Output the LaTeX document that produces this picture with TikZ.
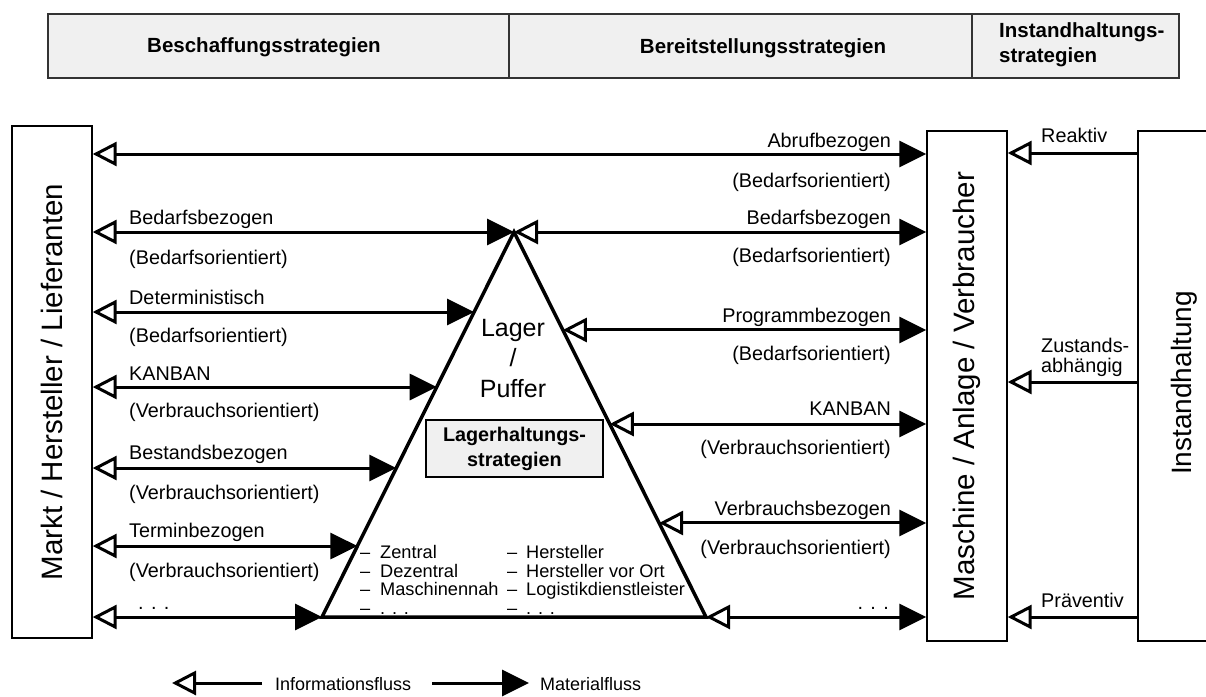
\documentclass[tikz,border=0pt]{standalone}
\usepackage{fontspec}
\setmainfont{Liberation Sans}
\usetikzlibrary{arrows.meta,calc}
\newcommand\lblfont{\fontsize{19.8}{21}\selectfont}
\newcommand\lstfont{\fontsize{18.2}{18.5}\selectfont}
\newcommand\bigfont{\fontsize{29.5}{32}\selectfont}
\newcommand\hdfont{\fontsize{20.5}{25}\selectfont\bfseries}
\begin{document}
\begin{tikzpicture}[x=1pt,y=-1pt,
  mat/.tip={Triangle[length=27pt,width=26pt]},
  inf/.tip={Triangle[open,length=24pt,width=24pt]},
  flow/.style={line width=3pt,{inf}-{mat}},
  infoflow/.style={line width=3pt,-{inf}},
  matflow/.style={line width=3pt,-{mat}},
  box/.style={draw,line width=1.4pt,inner sep=0pt},
  hd/.style={draw=black!80,line width=2pt,fill=black!6,inner sep=0pt},
  hdt/.style={inner sep=0pt,font=\hdfont},
  ll/.style={anchor=base west,inner sep=0pt,font=\lblfont},
  rl/.style={anchor=base east,inner sep=0pt,font=\lblfont},
  lst/.style={anchor=base west,inner sep=0pt,font=\lstfont},
  tri/.style={line width=3.5pt,line join=miter}
]
\useasboundingbox (0,0) rectangle (1206,696);

% header
\node[hd,minimum width=461pt,minimum height=64pt] (h1) at (278.5,46) {};
\node[hd,minimum width=463pt,minimum height=64pt] (h2) at (740.5,46) {};
\node[hd,minimum width=207pt,minimum height=64pt] (h3) at (1075.5,46) {};
\node[hdt] (h1t) at (264,47) {Beschaffungsstrategien};
\node[hdt] (h2t) at (763,48) {Bereitstellungsstrategien};
\node[hdt,align=left,anchor=west] (h3t) at (999,45) {Instandhaltungs-\\strategien};

% boxes
\node[box,minimum width=80pt,minimum height=512pt] (markt) at (52,382) {};
\node[rotate=90,font=\bigfont] (marktt) at (markt.center) {Markt / Hersteller / Lieferanten};
\node[box,minimum width=80pt,minimum height=510pt] (masch) at (967,386) {};
\node[rotate=90,font=\bigfont] (mascht) at (masch.center) {Maschine / Anlage / Verbraucher};
\node[box,minimum width=84pt,minimum height=510pt] (inst) at (1180,386) {};
\node[rotate=90,font=\fontsize{28}{30}\selectfont] (instt) at (1184,383) {Instandhaltung};

% row coordinates
\coordinate (r1) at (0,154);
\coordinate (s1) at (0,153);
\coordinate (s2) at (0,382);
\coordinate (s3) at (0,617);

% triangle corners
\coordinate (apex) at (514,232);
\coordinate (bl) at (322,617);
\coordinate (br) at (706,617);
\coordinate (l3) at ($(apex)!0.2078!(bl)$);
\coordinate (l4) at ($(apex)!0.4026!(bl)$);
\coordinate (l5) at ($(apex)!0.6130!(bl)$);
\coordinate (l6) at ($(apex)!0.8156!(bl)$);
\coordinate (m3) at ($(apex)!0.2545!(br)$);
\coordinate (m4) at ($(apex)!0.4987!(br)$);
\coordinate (m5) at ($(apex)!0.7558!(br)$);

% flows
\draw[flow] (markt.east |- r1) -- (masch.west |- r1);
\draw[flow] (markt.east |- apex) -- (apex);
\draw[flow] (apex) -- (masch.west |- apex);
\draw[flow] (markt.east |- l3) -- (l3);
\draw[flow] (markt.east |- l4) -- (l4);
\draw[flow] (markt.east |- l5) -- (l5);
\draw[flow] (markt.east |- l6) -- (l6);
\draw[flow] (markt.east |- bl) -- (bl);
\draw[flow] (m3) -- (masch.west |- m3);
\draw[flow] (m4) -- (masch.west |- m4);
\draw[flow] (m5) -- (masch.west |- m5);
\draw[flow] (br) -- (masch.west |- br);

\draw[infoflow] (inst.west |- s1) -- (masch.east |- s1);
\draw[infoflow] (inst.west |- s2) -- (masch.east |- s2);
\draw[infoflow] (inst.west |- s3) -- (masch.east |- s3);

% triangle
\draw[tri] (apex) -- (bl) -- (br) -- cycle;

% triangle texts
\node[anchor=base,inner sep=0pt,font=\fontsize{25}{30}\selectfont] (lag1) at (513,336) {Lager};
\node[anchor=base,inner sep=0pt,font=\fontsize{25}{30}\selectfont] (lag2) at (513,366) {/};
\node[anchor=base,inner sep=0pt,font=\fontsize{25}{30}\selectfont] (lag3) at (513,397) {Puffer};
\node[draw,line width=1.4pt,fill=black!6,minimum width=177pt,minimum height=57pt,align=center,
      font=\fontsize{19.8}{25}\selectfont\bfseries] (lhs) at (514.5,448.5) {Lagerhaltungs-\\strategien};

\foreach \t [count=\i] in {Zentral,Dezentral,Maschinennah,{. . .}}
  \node[lst] (la\i) at (360,{558.5+18.5*(\i-1)}) {\makebox[20pt][l]{–}\t};
\foreach \t [count=\i] in {Hersteller,Hersteller vor Ort,Logistikdienstleister,{. . .}}
  \node[lst] (lb\i) at (507,{558.5+18.5*(\i-1)}) {\makebox[19pt][l]{–}\t};

% left labels
\node[ll] (a2) at (129,224) {Bedarfsbezogen};
\node[ll] (b2) at (129,264) {(Bedarfsorientiert)};
\node[ll] (a3) at (129,304) {Deterministisch};
\node[ll] (b3) at (129,342) {(Bedarfsorientiert)};
\node[ll] (a4) at (129,380) {KANBAN};
\node[ll] (b4) at (129,417) {(Verbrauchsorientiert)};
\node[ll] (a5) at (129,459) {Bestandsbezogen};
\node[ll] (b5) at (129,499) {(Verbrauchsorientiert)};
\node[ll] (a6) at (129,537) {Terminbezogen};
\node[ll] (b6) at (129,577) {(Verbrauchsorientiert)};
\node[ll] (a7) at (138,609) {. . .};

% right labels
\node[rl] (c1) at (891,147) {Abrufbezogen};
\node[rl] (d1) at (891,187) {(Bedarfsorientiert)};
\node[rl] (c2) at (891,224) {Bedarfsbezogen};
\node[rl] (d2) at (891,262) {(Bedarfsorientiert)};
\node[rl] (c3) at (891,322) {Programmbezogen};
\node[rl] (d3) at (891,360) {(Bedarfsorientiert)};
\node[rl] (c4) at (891,415) {KANBAN};
\node[rl] (d4) at (891,454) {(Verbrauchsorientiert)};
\node[rl] (c5) at (891,515) {Verbrauchsbezogen};
\node[rl] (d5) at (891,554) {(Verbrauchsorientiert)};
\node[rl] (c6) at (889,609) {. . .};

% maintenance labels
\node[ll] (e1) at (1041,142) {Reaktiv};
\node[ll] (e2) at (1041,352) {Zustands-};
\node[ll] (e3) at (1041,372) {abhängig};
\node[ll] (e4) at (1041,607) {Präventiv};

% legend
\coordinate (li0) at (172,683);
\coordinate (li1) at (262,683);
\coordinate (lm0) at (432,683);
\coordinate (lm1) at (529,683);
\draw[infoflow] (li1) -- (li0);
\draw[matflow] (lm0) -- (lm1);
\node[anchor=west,inner sep=0pt,font=\fontsize{18}{20}\selectfont] (lgi) at (275,684) {Informationsfluss};
\node[anchor=west,inner sep=0pt,font=\fontsize{18}{20}\selectfont] (lgm) at (540,684) {Materialfluss};
\end{tikzpicture}
\end{document}
